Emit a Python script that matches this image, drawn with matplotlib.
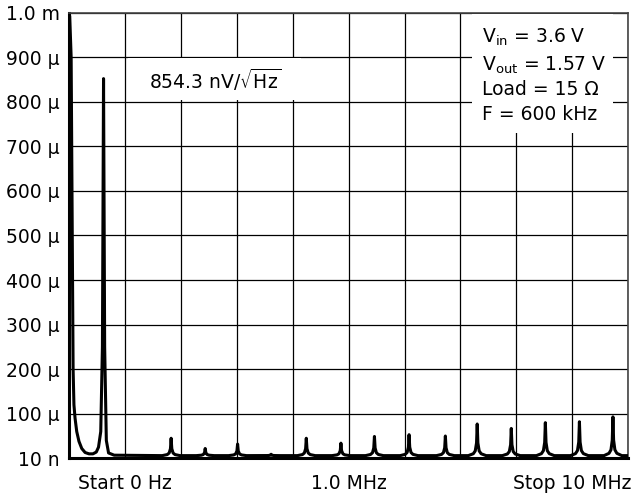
import numpy as np
import matplotlib.pyplot as plt
from matplotlib.patches import Rectangle

plt.rcParams['font.family'] = ['DejaVu Sans']
plt.rcParams['mathtext.fontset'] = 'dejavusans'

# low frequency part of the trace (MHz, uV)
lf_freq = [0.005, 0.03, 0.05, 0.065, 0.08, 0.10, 0.13, 0.17, 0.22, 0.28, 0.35,
           0.42, 0.48, 0.52, 0.56, 0.59, 0.61, 0.63, 0.66, 0.70, 0.80]
lf_amp = [990, 900, 500, 200, 120, 90, 60, 38, 22, 13, 10,
          10, 14, 25, 60, 250, 852, 250, 40, 12, 7]

# noise floor between the harmonics (uV)
floor_level = 6

# switching harmonics (MHz, uV)
harm_freq = [1.82, 2.43, 3.01, 3.61, 4.24, 4.86, 5.46, 6.08, 6.73, 7.30, 7.91, 8.52, 9.13, 9.73]
harm_amp = [45, 22, 32, 9, 45, 34, 49, 53, 50, 77, 67, 80, 82, 93]

y_ticks = [0, 100, 200, 300, 400, 500, 600, 700, 800, 900, 1000]
y_labels = ['10 n', '100 μ', '200 μ', '300 μ', '400 μ', '500 μ', '600 μ',
            '700 μ', '800 μ', '900 μ', '1.0 m']
x_ticks = list(range(11))
x_labels = ['', 'Start 0 Hz', '', '', '', '1.0 MHz', '', '', '', 'Stop 10 MHz', '']

fs = 13.5


def build_trace():
    # spike profile around each harmonic
    offs = [-0.16, -0.07, -0.035, -0.012, 0, 0.012, 0.035, 0.07, 0.16]
    rel = [0, 0.06, 0.15, 0.4, 1, 0.4, 0.15, 0.06, 0]
    x = list(lf_freq)
    y = list(lf_amp)
    for f, h in zip(harm_freq, harm_amp):
        for o, r in zip(offs, rel):
            x.append(f + o)
            y.append(floor_level + (h - floor_level) * r)
    x.append(10.0)
    y.append(floor_level)
    return np.array(x), np.array(y)


fig = plt.figure(figsize=(6.35, 5.0), dpi=100)
ax = fig.add_axes([0.1094, 0.0834, 0.8796, 0.8912])

x, y = build_trace()
ax.plot(x, y, color='black', lw=2.2, zorder=4, solid_joinstyle='round')

ax.set_xlim(0, 10)
ax.set_ylim(0, 1000)
ax.set_xticks(x_ticks)
ax.set_xticklabels(x_labels, fontsize=fs)
ax.set_yticks(y_ticks)
ax.set_yticklabels(y_labels, fontsize=fs)
ax.tick_params(length=0)
ax.tick_params(axis='y', pad=7)
ax.tick_params(axis='x', pad=11)
ax.grid(True, color='black', lw=0.9)
ax.set_axisbelow(True)

for side in ['left', 'bottom']:
    ax.spines[side].set_linewidth(2.2)
for side in ['top', 'right']:
    ax.spines[side].set_linewidth(1.2)
    ax.spines[side].set_color('#444444')

# white boxes behind the annotations
ax.add_patch(Rectangle((1.05, 803), 3.1, 95, facecolor='white', edgecolor='none', zorder=2))
ax.add_patch(Rectangle((7.2, 730), 2.53, 267, facecolor='white', edgecolor='none', zorder=2))

ax.text(2.6, 849, r'854.3 nV/$\sqrt{\mathrm{Hz}}$', fontsize=fs, ha='center', va='center', zorder=3)

info = [r'V$_{\mathrm{in}}$ = 3.6 V', r'V$_{\mathrm{out}}$ = 1.57 V',
        'Load = 15 Ω', 'F = 600 kHz']
info_y = [945, 881, 827, 771]
for s, yy in zip(info, info_y):
    ax.text(7.38, yy, s, fontsize=fs, ha='left', va='center', zorder=3)

fig.savefig('out.png', dpi=100)
